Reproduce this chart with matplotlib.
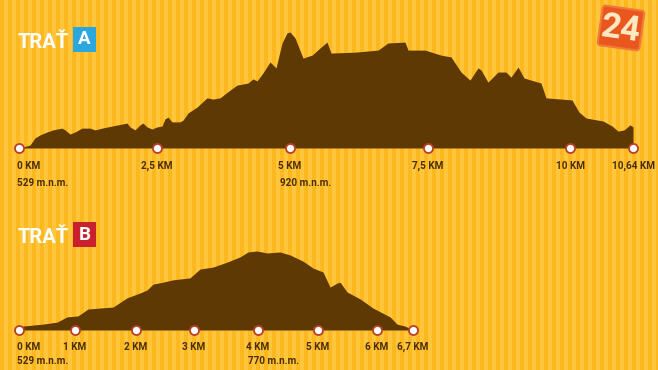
import numpy as np
import matplotlib
matplotlib.use("Agg")
import matplotlib.pyplot as plt
import matplotlib.transforms as mtransforms
from matplotlib.colors import ListedColormap
from matplotlib.patches import Rectangle, FancyBboxPatch

# --- data ------------------------------------------------------------
# Trať A: distance (km) / elevation (m n.m.)
a_km = [0, 0.072, 0.199, 0.290, 0.380, 0.507, 0.616, 0.779, 0.833, 0.924,
        1.014, 1.141, 1.286, 1.377, 1.504, 1.685, 1.793, 1.957, 2.011, 2.101,
        2.192, 2.246, 2.319, 2.409, 2.5, 2.594, 2.650, 2.707, 2.782, 2.932,
        2.989, 3.083, 3.252, 3.440, 3.553, 3.684, 3.872, 4.004, 4.211, 4.305,
        4.380, 4.492, 4.624, 4.737, 4.850, 4.944, 5.0, 5.091, 5.236, 5.399,
        5.543, 5.670, 5.743, 6.178, 6.594, 6.775, 7.083, 7.138, 7.446, 7.729,
        7.905, 8.081, 8.239, 8.380, 8.433, 8.556, 8.732, 8.873, 8.961, 9.085,
        9.190, 9.489, 9.577, 10.020, 10.091, 10.163, 10.335, 10.427, 10.488,
        10.549, 10.610, 10.64]
a_elev = [529, 532, 539, 563, 573, 583, 590, 596, 590, 576,
          583, 596, 596, 590, 596, 603, 607, 613, 600, 590,
          607, 613, 600, 593, 600, 603, 627, 633, 617, 617,
          623, 647, 667, 698, 694, 698, 724, 741, 748, 762,
          755, 782, 819, 799, 883, 917, 920, 900, 832, 842,
          866, 886, 849, 852, 859, 883, 886, 859, 859, 842,
          836, 785, 758, 799, 792, 751, 785, 785, 768, 802,
          765, 748, 698, 691, 650, 630, 620, 603, 586, 590,
          607, 600]
a_ticks = [0, 2.5, 5, 7.5, 10, 10.64]
a_tick_labels = ["0 KM", "2,5 KM", "5 KM", "7,5 KM", "10 KM", "10,64 KM"]
a_alt_km = [0, 5]
a_alt_labels = ["529 m.n.m.", "920 m.n.m."]

# Trať B
b_km = [0, 0.071, 0.429, 0.679, 0.857, 1.049, 1.213, 1.410, 1.623, 1.852,
        2.069, 2.190, 2.293, 2.466, 2.638, 2.931, 3.094, 3.297, 3.516, 3.719,
        3.844, 3.984, 4.150, 4.367, 4.533, 4.750, 4.917, 5.085, 5.203, 5.322,
        5.373, 5.492, 5.712, 5.932, 6.253, 6.389, 6.544, 6.7]
b_elev = [529, 541, 547, 553, 569, 572, 593, 596, 599, 627,
          642, 651, 669, 675, 682, 688, 715, 721, 736, 752,
          767, 770, 764, 767, 758, 739, 718, 706, 660, 672,
          675, 645, 624, 596, 569, 547, 541, 529]
b_ticks = [0, 1, 2, 3, 4, 5, 6, 6.7]
b_tick_labels = ["0 KM", "1 KM", "2 KM", "3 KM", "4 KM", "5 KM", "6 KM", "6,7 KM"]
b_alt_km = [0, 4]
b_alt_labels = ["529 m.n.m.", "770 m.n.m."]

# --- look --------------------------------------------------------------
W, H = 658, 370
BROWN = "#5F3903"
TEXT = "#4A2E0A"
RING = "#B8402A"
FONT = ["Roboto", "DejaVu Sans"]

# the original stretches km unevenly between markers; pixel x of each marker
a_tick_px = [19, 157, 290, 428, 570, 633]
b_tick_px = [19, 75, 136, 194, 258, 318, 377, 413]


def km_scale(km, px):
    km = np.asarray(km, float)
    px = np.asarray(px, float)
    s0 = (px[1] - px[0]) / (km[1] - km[0])
    s1 = (px[-1] - px[-2]) / (km[-1] - km[-2])
    k = np.concatenate([[km[0] - 100], km, [km[-1] + 100]])
    p = np.concatenate([[px[0] - 100 * s0], px, [px[-1] + 100 * s1]])
    return (lambda x: np.interp(x, k, p)), (lambda x: np.interp(x, p, k))


fig = plt.figure(figsize=(W / 100, H / 100), dpi=100)

# striped background, pixel coordinates
bg = fig.add_axes([0, 0, 1, 1])
stripes = np.tile(np.array([0, 0, 0, 0, 1, 1, 1, 1]), W // 8 + 1)[:W]
bg.imshow(stripes[np.newaxis, :], cmap=ListedColormap(["#FDB71F", "#FEC63C"]),
          aspect="auto", extent=(0, W, H, 0), interpolation="nearest")
bg.set_xlim(0, W)
bg.set_ylim(H, 0)
bg.axis("off")


def title(y, letter, box_color):
    bg.text(18, y, "TRAŤ", color="white", fontsize=14.5, fontweight="bold",
            family=FONT, va="baseline", ha="left")
    bg.add_patch(Rectangle((73, y - 21), 23, 25, color=box_color, lw=0))
    bg.text(84.5, y - 8.5, letter, color="white", fontsize=13.5,
            fontweight="bold", family=FONT, ha="center", va="center")


title(48, "A", "#2AA7DF")
title(243, "B", "#C9202E")

# "24" logo
rot = mtransforms.Affine2D().rotate_deg_around(621, 28, 8) + bg.transData
logo = FancyBboxPatch((600, 8), 42, 40, boxstyle="round,pad=0,rounding_size=3",
                      fc="#E9571E", ec="#F07A3A", lw=1.5, transform=rot)
bg.add_patch(logo)
bg.text(621, 29, "24", color="#FCEBC4", fontsize=25, fontweight="bold",
        family=FONT, ha="center", va="center", rotation=-8)


def profile(rect, km, elev, ticks, tick_px, labels, alt_km, alt_labels,
            top, lab_dy, alt_dy):
    ax = fig.add_axes(rect)
    fwd, inv = km_scale(ticks, tick_px)
    ax.set_xscale("function", functions=(fwd, inv))
    base = elev[0]
    ax.fill_between(km, base, elev, color=BROWN, lw=0)
    ax.plot(ticks, np.full(len(ticks), base), "o", ms=6.5, mfc="white",
            mec=RING, mew=1.3, clip_on=False, zorder=5)
    for i, (t, lab) in enumerate(zip(ticks, labels)):
        ha = "left" if i == 0 else "center"
        dx = -2 if i == 0 else 0
        ax.annotate(lab, (t, base), xytext=(dx, -lab_dy),
                    textcoords="offset pixels", ha=ha, va="center",
                    fontsize=7.2, fontweight="bold", color=TEXT, family=FONT)
    for t, lab in zip(alt_km, alt_labels):
        dx = -2 if t == 0 else -10
        ax.annotate(lab, (t, base), xytext=(dx, -alt_dy),
                    textcoords="offset pixels", ha="left", va="center",
                    fontsize=7.2, fontweight="bold", color=TEXT, family=FONT)
    ax.set_xlim(ticks[0], ticks[-1])
    ax.set_ylim(base, top)
    ax.axis("off")
    return ax


profile([19 / W, (H - 148) / H, 614 / W, 116 / H], a_km, a_elev, a_ticks,
        a_tick_px, a_tick_labels, a_alt_km, a_alt_labels, 920, 18, 35)
profile([19 / W, (H - 330) / H, 394 / W, 79 / H], b_km, b_elev, b_ticks,
        b_tick_px, b_tick_labels, b_alt_km, b_alt_labels, 770, 17, 31)

fig.savefig("out.png", dpi=100)
